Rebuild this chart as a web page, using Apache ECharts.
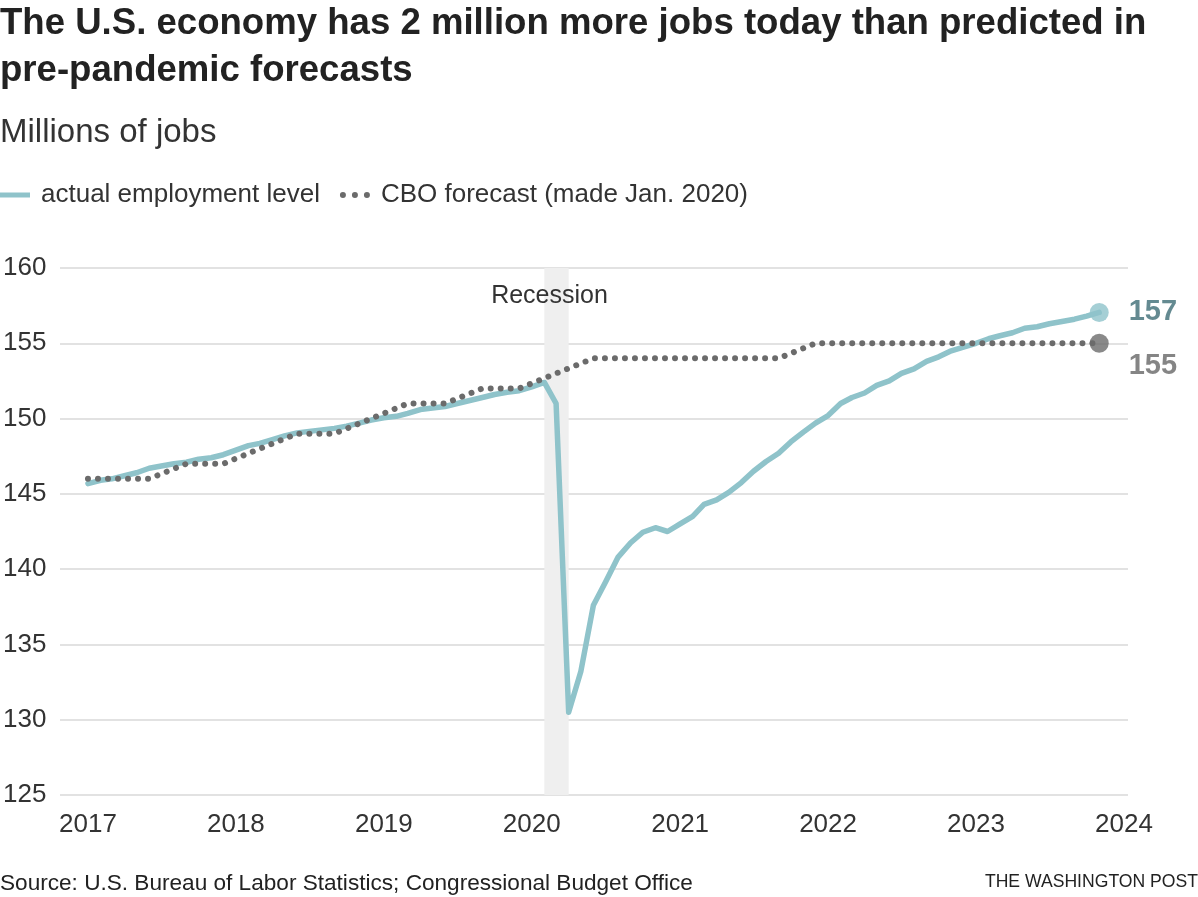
<!DOCTYPE html>
<html>
<head>
<meta charset="utf-8">
<script src="https://cdn.jsdelivr.net/npm/echarts@6/dist/echarts.min.js"></script>
<style>
  html, body { margin: 0; padding: 0; background: #fff; }
  #chart { width: 1198px; height: 897px; }
</style>
</head>
<body>
<div id="chart"></div>
<script>
// ---- Data (millions of jobs), monthly, first of month ----
const actual2017 = [145.68, 145.9, 146.0, 146.2, 146.4, 146.7, 146.85, 147.0, 147.1, 147.3, 147.4, 147.6];
const actual2018 = [147.9, 148.2, 148.35, 148.6, 148.85, 149.05, 149.15, 149.25, 149.35, 149.5, 149.7, 149.9];
const actual2019 = [150.05, 150.15, 150.35, 150.6, 150.7, 150.8, 151.0, 151.2, 151.4, 151.6, 151.75, 151.85];
const actual2020 = [152.1, 152.4, 151.0, 130.5, 133.2, 137.6, 139.15, 140.8, 141.75, 142.45, 142.75, 142.5];
const actual2021 = [143.0, 143.5, 144.3, 144.6, 145.1, 145.75, 146.5, 147.15, 147.7, 148.45, 149.1, 149.7];
const actual2022 = [150.2, 151.0, 151.4, 151.7, 152.2, 152.5, 153.0, 153.3, 153.8, 154.1, 154.5, 154.75];
const actual2023 = [155.0, 155.3, 155.5, 155.7, 156.0, 156.1, 156.3, 156.45, 156.6, 156.8, 157.05];
const actualYears = [2017, 2018, 2019, 2020, 2021, 2022, 2023];
const actualByYear = [actual2017, actual2018, actual2019, actual2020, actual2021, actual2022, actual2023];

// CBO forecast (made Jan. 2020), quarterly readings
const cboDates = ['2017-01-01','2017-03-01','2017-06-01','2017-09-01','2017-12-01',
  '2018-03-01','2018-06-01','2018-09-01','2018-12-01',
  '2019-03-01','2019-06-01','2019-09-01','2019-12-01',
  '2020-03-01','2020-06-01','2020-09-01','2020-12-01',
  '2021-03-01','2021-06-01','2021-09-01','2021-12-01',
  '2022-03-01','2022-06-01','2022-09-01','2022-12-01',
  '2023-03-01','2023-06-01','2023-09-01','2023-11-01'];
const cboValues = [146, 146, 146, 147, 147,
  148, 149, 149, 150,
  151, 151, 152, 152,
  153, 154, 154, 154,
  154, 154, 154, 155,
  155, 155, 155, 155,
  155, 155, 155, 155];

const yearTickLabels = ['2017','2018','2019','2020','2021','2022','2023','2024'];
const recession = ['2020-02-01', '2020-04-01'];
const axisRange = ['2016-10-24', '2024-01-11'];

// ---- Build series data ----
function ts(s) { const p = s.split('-').map(Number); return new Date(p[0], p[1] - 1, p[2]).getTime(); }
function pad(n) { return n < 10 ? '0' + n : '' + n; }
const actualData = [];
actualByYear.forEach((arr, yi) => {
  arr.forEach((v, m) => actualData.push([ts(actualYears[yi] + '-' + pad(m + 1) + '-01'), v]));
});
const cboData = cboDates.map((d, i) => [ts(d), cboValues[i]]);
const lastActual = actualData[actualData.length - 1];
const lastCbo = cboData[cboData.length - 1];
const yearTicks = yearTickLabels.map(y => ts(y + '-01-01'));

const FONT = "'Liberation Sans', Arial, sans-serif";
const TEAL = '#8fc3ca';
const GRAY = '#6b6b6b';

const lineIcon = 'path://M0,0H30V5H0Z';
const dotsIcon = 'path://M0,2.5a2.5,2.5 0 1,0 5,0a2.5,2.5 0 1,0 -5,0M10,2.5a2.5,2.5 0 1,0 5,0a2.5,2.5 0 1,0 -5,0M20,2.5a2.5,2.5 0 1,0 5,0a2.5,2.5 0 1,0 -5,0';

const chart = echarts.init(document.getElementById('chart'), null, { renderer: 'canvas' });
chart.setOption({
  animation: false,
  backgroundColor: '#fff',
  textStyle: { fontFamily: FONT },
  title: [
    { text: 'The U.S. economy has 2 million more jobs today than predicted in\npre-pandemic forecasts',
      left: 0, top: 0, padding: 0,
      textStyle: { fontFamily: FONT, fontSize: 36.6, fontWeight: 'bold', color: '#222', lineHeight: 47 } },
    { text: 'Millions of jobs', left: 0, top: 116, padding: 0,
      textStyle: { fontFamily: FONT, fontSize: 33, fontWeight: 'normal', color: '#333' } },
    { text: 'Source: U.S. Bureau of Labor Statistics; Congressional Budget Office', left: 0, top: 872, padding: 0,
      textStyle: { fontFamily: FONT, fontSize: 22.6, fontWeight: 'normal', color: '#222' } },
    { text: 'THE WASHINGTON POST', right: 0, top: 873, padding: 0,
      textStyle: { fontFamily: FONT, fontSize: 17.6, fontWeight: 'normal', color: '#222' } }
  ],
  legend: {
    left: 0, top: 182, padding: 0,
    itemWidth: 30, itemHeight: 20, itemGap: 20,
    data: [
      { name: 'actual employment level', icon: lineIcon, itemStyle: { color: TEAL } },
      { name: 'CBO forecast (made Jan. 2020)', icon: dotsIcon, itemStyle: { color: GRAY } }
    ],
    textStyle: { fontFamily: FONT, fontSize: 26, color: '#333', padding: [0, 0, 0, 6] }
  },
  grid: { left: 57, right: 70, top: 268, bottom: 102 },
  xAxis: {
    type: 'value',
    min: ts(axisRange[0]),
    max: ts(axisRange[1]),
    axisLine: { show: false },
    axisTick: { show: false },
    splitLine: { show: false },
    axisLabel: {
      customValues: yearTicks,
      margin: 17,
      fontFamily: FONT, fontSize: 26, color: '#333',
      formatter: v => String(new Date(v).getFullYear())
    }
  },
  yAxis: {
    type: 'value', min: 125, max: 160, interval: 5,
    axisLine: { show: false },
    axisTick: { show: false },
    axisLabel: { align: 'left', margin: 57, fontFamily: FONT, fontSize: 26, color: '#333' },
    splitLine: { lineStyle: { color: '#d9d9d9', width: 1.5 } }
  },
  series: [
    {
      name: 'actual employment level', type: 'line', data: actualData,
      symbol: 'none', z: 2,
      lineStyle: { color: TEAL, width: 5.5, join: 'round', cap: 'round' },
      itemStyle: { color: TEAL },
      markArea: {
        silent: true,
        itemStyle: { color: '#efefef' },
        label: { show: true, position: 'insideTop', distance: 16, offset: [-7, 0],
                 fontFamily: FONT, fontSize: 25, color: '#333' },
        data: [[{ xAxis: ts(recession[0]), name: 'Recession' }, { xAxis: ts(recession[1]) }]]
      }
    },
    {
      name: 'CBO forecast (made Jan. 2020)', type: 'line', data: cboData,
      symbol: 'none', z: 3,
      lineStyle: { color: GRAY, width: 6, type: [0.01, 10], cap: 'round' },
      itemStyle: { color: GRAY }
    },
    {
      name: 'actualEnd', type: 'scatter', data: [lastActual], symbolSize: 19, z: 5,
      itemStyle: { color: TEAL },
      label: { show: true, position: 'right', distance: 20,
               formatter: p => String(Math.round(p.value[1])),
               fontFamily: FONT, fontSize: 29, fontWeight: 'bold', color: '#3d6d75' }
    },
    {
      name: 'cboEnd', type: 'scatter', data: [lastCbo], symbolSize: 19, z: 5,
      itemStyle: { color: GRAY },
      label: { show: true, position: 'right', distance: 20, offset: [0, 23],
               formatter: p => String(Math.round(p.value[1])),
               fontFamily: FONT, fontSize: 29, fontWeight: 'bold', color: '#666' }
    }
  ]
});
</script>
</body>
</html>
